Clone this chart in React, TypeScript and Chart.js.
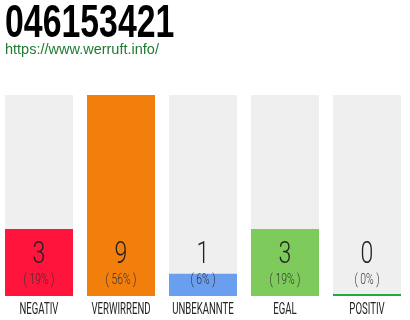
import React, { useEffect, useRef } from "react";
import { Chart, registerables } from "chart.js";

Chart.register(...registerables);

const title = "046153421";
const siteUrl = "https://www.werruft.info/";
const categories = ["NEGATIV", "VERWIRREND", "UNBEKANNTE", "EGAL", "POSITIV"];
const counts = [3, 9, 1, 3, 0];
const percents = ["19%", "56%", "6%", "19%", "0%"];
const barColors = ["#ff143c", "#f27e0c", "#6a9eef", "#7ecb5c", "#1faa44"];
const trackMax = 9;

// draws condensed text by squeezing the canvas horizontally around the anchor
function condensed(
  ctx: CanvasRenderingContext2D,
  text: string,
  x: number,
  y: number,
  font: string,
  sx: number,
  align: CanvasTextAlign,
  color: string
) {
  ctx.save();
  ctx.font = font;
  ctx.fillStyle = color;
  ctx.textAlign = align;
  ctx.textBaseline = "alphabetic";
  ctx.translate(x, y);
  ctx.scale(sx, 1);
  ctx.fillText(text, 0, 0);
  ctx.restore();
}

const labelsPlugin = {
  id: "voteLabels",
  afterDatasetsDraw(chart: any) {
    const ctx: CanvasRenderingContext2D = chart.ctx;
    const x = chart.scales.x;
    const y = chart.scales.y;
    // heading + link
    condensed(ctx, title, 7, 37, "bold 47px 'Liberation Sans'", 0.72, "left", "#000");
    condensed(ctx, siteUrl, 7, 54, "14.5px 'Liberation Sans'", 1, "left", "#1f7a33");
    const base = y.getPixelForValue(0);
    categories.forEach((cat, i) => {
      const cx = x.getPixelForValue(i);
      condensed(ctx, String(counts[i]), cx, base - 33, "300 32px Roboto", 0.72, "center", "#222");
      condensed(ctx, "( " + percents[i] + " )", cx, base - 12, "300 14px Roboto", 0.74, "center", "#333");
      condensed(ctx, cat, cx, base + 18, "16px Roboto", 0.6, "center", "#222");
    });
  },
};

export default function App() {
  const ref = useRef<HTMLCanvasElement | null>(null);
  useEffect(() => {
    document.body.style.margin = "0";
    document.body.style.overflow = "hidden";
    const chart = new Chart(ref.current!, {
      type: "bar",
      data: {
        labels: categories,
        datasets: [
          {
            data: counts,
            backgroundColor: barColors,
            borderWidth: 0,
            minBarLength: 2,
            grouped: false,
            order: 1,
            categoryPercentage: 1,
            barPercentage: 68 / 82,
          },
          {
            data: categories.map(() => trackMax),
            backgroundColor: "#efefef",
            borderWidth: 0,
            grouped: false,
            order: 2,
            categoryPercentage: 1,
            barPercentage: 68 / 82,
          },
        ],
      },
      options: {
        responsive: false,
        animation: false,
        layout: { padding: { top: 95, bottom: 24, left: 0, right: 0 } },
        plugins: { legend: { display: false }, tooltip: { enabled: false }, title: { display: false } },
        scales: {
          x: { display: false, grid: { display: false } },
          y: { display: false, min: 0, max: trackMax },
        },
      },
      plugins: [labelsPlugin],
    });
    return () => chart.destroy();
  }, []);
  return (
    <div style={{ position: "absolute", left: -2, top: 0, width: 410, height: 320 }}>
      <canvas ref={ref} width={410} height={320} />
    </div>
  );
}
